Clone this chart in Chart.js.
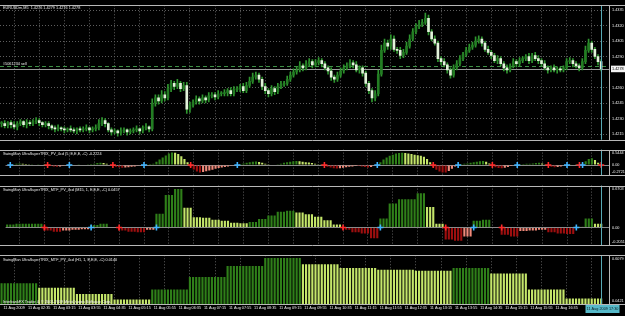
<!DOCTYPE html>
<html>
<head>
<meta charset="utf-8">
<script src="https://cdn.jsdelivr.net/npm/chart.js@4.4.1/dist/chart.umd.min.js"></script>
<style>
	html, body { margin: 0; padding: 0; background: #000; overflow: hidden; }
	#graphique { position: relative; width: 625px; height: 316px; background: #000; }
	canvas { position: absolute; left: 0; }
</style>
</head>
<body>
<div id="graphique">
	<canvas id="prix" width="625" height="145" style="top:0"></canvas>
	<canvas id="trix-m5" width="625" height="37" style="top:144px"></canvas>
	<canvas id="trix-m15" width="625" height="71" style="top:180px"></canvas>
	<canvas id="trix-h1" width="625" height="66" style="top:250px"></canvas>
</div>
<script>
const cloture = [
	1.4225, 1.4223, 1.4226, 1.4224, 1.4222, 1.4225, 1.4227, 1.4224, 1.4226, 1.4225,
	1.4227, 1.4228, 1.4226, 1.4224, 1.4225, 1.4223, 1.4221, 1.4220, 1.4221, 1.4220,
	1.4219, 1.4220, 1.4219, 1.4218, 1.4220, 1.4219, 1.4220, 1.4221, 1.4219, 1.4220,
	1.4221, 1.4225, 1.4228, 1.4225, 1.4219, 1.4217, 1.4218, 1.4216, 1.4218, 1.4219,
	1.4217, 1.4218, 1.4219, 1.4220, 1.4218, 1.4221, 1.4222, 1.4220, 1.4245, 1.4250,
	1.4247, 1.4253, 1.4250, 1.4259, 1.4264, 1.4261, 1.4264, 1.4259, 1.4262, 1.4239,
	1.4243, 1.4246, 1.4249, 1.4247, 1.4250, 1.4248, 1.4252, 1.4253, 1.4251, 1.4254,
	1.4254, 1.4255, 1.4257, 1.4254, 1.4258, 1.4259, 1.4261, 1.4257, 1.4262, 1.4266,
	1.4270, 1.4272, 1.4268, 1.4261, 1.4257, 1.4254, 1.4259, 1.4256, 1.4261, 1.4263,
	1.4264, 1.4268, 1.4272, 1.4275, 1.4277, 1.4281, 1.4279, 1.4283, 1.4285, 1.4282,
	1.4284, 1.4286, 1.4283, 1.4279, 1.4276, 1.4270, 1.4268, 1.4272, 1.4276, 1.4279,
	1.4281, 1.4284, 1.4282, 1.4277, 1.4279, 1.4274, 1.4264, 1.4257, 1.4250, 1.4254,
	1.4273, 1.4296, 1.4303, 1.4300, 1.4307, 1.4297, 1.4296, 1.4291, 1.4294, 1.4300,
	1.4307, 1.4314, 1.4319, 1.4321, 1.4323, 1.4327, 1.4314, 1.4307, 1.4303, 1.4288,
	1.4285, 1.4282, 1.4277, 1.4272, 1.4279, 1.4283, 1.4288, 1.4292, 1.4296, 1.4299,
	1.4301, 1.4305, 1.4307, 1.4303, 1.4297, 1.4294, 1.4291, 1.4286, 1.4288, 1.4283,
	1.4279, 1.4277, 1.4281, 1.4285, 1.4283, 1.4286, 1.4288, 1.4290, 1.4286, 1.4291,
	1.4288, 1.4286, 1.4283, 1.4279, 1.4277, 1.4279, 1.4277, 1.4278, 1.4277, 1.4279,
	1.4285, 1.4286, 1.4283, 1.4281, 1.4279, 1.4285, 1.4296, 1.4303, 1.4297, 1.4290,
	1.4285, 1.4278
];
// mèches en pips au-dessus / au-dessous du corps
const mecheHaut = [
	2,3,1,2,3,2,2,1,3,2, 2,3,2,1,2,2,1,2,3,1,
	2,1,3,2,1,2,2,3,1,2, 3,4,3,2,1,2,2,1,3,2,
	1,2,2,3,1,2,3,1,4,3, 3,4,3,4,3,2,4,2,3,3,
	3,2,3,2,3,2,3,2,2,3, 2,3,2,3,3,2,2,3,3,4,
	4,3,2,2,3,2,3,2,3,3, 2,3,3,3,3,4,2,3,3,2,
	3,3,2,2,2,3,2,3,3,3, 3,3,2,3,2,2,2,2,2,3,
	4,5,4,3,4,3,2,3,3,4, 4,3,3,4,3,5,3,2,3,2,
	2,3,2,2,3,3,3,2,3,3, 3,4,3,2,2,3,2,2,3,2,
	2,3,2,3,2,3,2,2,3,2, 3,3,2,3,2,2,3,2,2,2,
	3,3,2,2,2,3,4,4,2,2, 2,2
];
const mecheBas = [
	3,2,2,3,2,3,2,2,3,2, 2,2,3,2,2,3,2,3,2,2,
	3,2,2,2,3,2,2,2,3,2, 2,2,2,3,2,3,2,3,2,2,
	3,2,2,2,3,2,2,3,2,3, 3,2,3,2,3,3,2,3,2,4,
	3,2,2,3,2,3,2,2,3,2, 2,2,3,2,2,2,3,2,2,2,
	2,2,3,3,3,3,2,3,2,2, 2,2,2,2,2,2,3,2,2,3,
	2,2,3,2,3,3,3,2,2,2, 2,2,3,2,3,3,3,3,4,3,
	2,2,2,3,3,2,3,3,2,2, 2,2,2,2,2,2,3,2,2,3,
	3,2,3,3,2,2,2,2,2,2, 2,2,2,3,2,2,3,2,3,2,
	3,3,2,2,3,2,2,2,3,2, 2,3,2,2,3,2,2,3,2,2,
	2,2,3,2,3,2,2,2,3,2, 3,2
];
const niveauxPrix = [1.4335, 1.4320, 1.4305, 1.4290, 1.4260, 1.4245, 1.4230, 1.4215];
const prixActuel = 1.4278;
const ordreVente = 1.4281;

// TRIX M5 (une valeur par barre)
const trixM5 = [
	-0.01,
	0.01, 0.03, 0.05, 0.06, 0.05, 0.04, 0.03, 0.03, 0.02, 0.03, 0.02, 0.01,
	-0.02, -0.04, -0.05, -0.06, -0.05, -0.03, -0.01,
	0.01, 0.02, 0.02, 0.03, 0.02, 0.02, 0.03, 0.04, 0.05, 0.07, 0.08,
	0.07, 0.05, 0.02,
	-0.03, -0.06, -0.08, -0.10, -0.09, -0.08, -0.06, -0.05, -0.03, -0.01,
	0.02, 0.03, 0.04, 0.05,
	0.12, 0.20, 0.28, 0.35, 0.42, 0.46, 0.45, 0.40, 0.32, 0.22, 0.10,
	-0.06, -0.16, -0.24, -0.27, -0.26, -0.23, -0.20, -0.17, -0.14, -0.11, -0.09, -0.07, -0.05, -0.03, -0.01,
	0.02, 0.04, 0.06, 0.08, 0.10, 0.12,
	0.13, 0.11, 0.08, 0.05, 0.03, 0.02, 0.02,
	0.03, 0.05, 0.08, 0.10, 0.12, 0.14, 0.15, 0.14, 0.12,
	0.10, 0.09, 0.07, 0.05, 0.03, 0.01,
	-0.03, -0.06, -0.09, -0.12, -0.13, -0.12, -0.10, -0.08, -0.06, -0.05, -0.04, -0.04, -0.05, -0.07, -0.09, -0.07, -0.03,
	0.02, 0.10, 0.20, 0.28, 0.34, 0.38, 0.42, 0.44, 0.45, 0.44, 0.42, 0.40, 0.38, 0.36, 0.34, 0.30, 0.22, 0.10,
	-0.08, -0.17, -0.24, -0.27, -0.27, -0.22, -0.14, -0.05,
	0.02, 0.04, 0.05, 0.06, 0.08, 0.10, 0.12, 0.14, 0.15, 0.12, 0.06,
	-0.04, -0.08, -0.11, -0.12, -0.10, -0.07, -0.04, -0.02,
	0.02, 0.03, 0.04, 0.05, 0.05, 0.06, 0.07, 0.08, 0.06, 0.03,
	-0.03, -0.06, -0.08, -0.07, -0.05, -0.02,
	0.02, 0.03, 0.02, 0.01,
	-0.01,
	0.06, 0.14, 0.22, 0.25, 0.18, 0.08,
	-0.06
];
// TRIX M15 (une valeur pour 3 barres M5)
const trixM15 = [
	0.05, 0.06, 0.06, 0.06,
	-0.05, -0.07, -0.05, -0.04, -0.03, 0.04, 0.06,
	0,
	-0.05, -0.07, -0.08, -0.04,
	0.23, 0.54, 0.64, 0.33, 0.17, 0.16,
	0.13, 0.11,
	0.08, 0.07, 0.09,
	0.14, 0.20, 0.26, 0.28, 0.25,
	0.22, 0.18, 0.12, 0.05,
	-0.04, -0.08, -0.10, -0.18,
	0.15, 0.40, 0.47, 0.47, 0.57,
	0.34, 0.06,
	-0.20, -0.22, -0.15,
	0.11, 0.13, 0,
	-0.12, -0.15, -0.06, -0.05, -0.04,
	-0.08, -0.10, -0.11,
	0.01, 0.15, 0.06
];
// TRIX H1 (une valeur pour 12 barres M5)
const trixH1 = [0.291, 0.234, 0.155, 0.087, 0.212, 0.370, 0.506, 0.608, 0.530, 0.483, 0.460, 0.449, 0.483, 0.415, 0.212, 0.099];

const etiquettesTemps = [
	'11 Aug 2009', '11 Aug 02:35', '11 Aug 03:15', '11 Aug 03:55', '11 Aug 04:35', '11 Aug 05:15',
	'11 Aug 05:55', '11 Aug 06:35', '11 Aug 07:15', '11 Aug 07:55', '11 Aug 08:35', '11 Aug 09:15',
	'11 Aug 09:55', '11 Aug 10:35', '11 Aug 11:15', '11 Aug 11:55', '11 Aug 12:35', '11 Aug 13:15',
	'11 Aug 13:55', '11 Aug 14:35', '11 Aug 15:15', '11 Aug 15:55', '11 Aug 16:35'
];
const heureCourante = '11 Aug 2009 17:30';
const etiquettesM5 = ['0.5444', '0.00', '-0.2721'];
const etiquettesM15 = ['0.6703', '0.00', '-0.2051'];
const etiquettesH1 = ['0.6079', '0.0421'];

const titrePrix = 'EURUSDm,M5  1.4276 1.4279 1.4276 1.4278';
const titreOrdre = '#5061234 sell';
const titreM5 = 'SwingMan UltraSuperTRIX_PV_4cd (5, E,E,E, -C) -0.2224';
const titreM15 = 'SwingMan UltraSuperTRIX_MTF_PV_4cd (M15, 1, E,E,E, -C) 0.0457';
const titreH1 = 'SwingMan UltraSuperTRIX_MTF_PV_4cd (H1, 1, E,E,E, -C) 0.0140';
const copyright = 'InterbankFX Trader 4, \u00a9 2001-2009 MetaQuotes Software Corp.';

// Couleurs et police
const POLICE = '3.8px "Liberation Sans"';
const TEXTE = '#ececec';
const GRILLE = '#5e5e5e';
const CADRE = '#b8b8b8';
const VERTICALE = '#58aab6';
const VERT_FONCE = '#2f7f19';
const VERT_CLAIR = '#c4e66a';
const ROUGE_FONCE = '#9e0f0f';
const SAUMON = '#f0897a';
const CROIX_HAUT = '#41b4ff';
const CROIX_BAS = '#ff2a2a';

Chart.defaults.font.family = 'Liberation Sans';
Chart.defaults.font.size = 3.8;

const nbCategories = cloture.length + 2;
const categories = Array.from({ length: nbCategories }, (_, i) => i);
const derniereBarre = cloture.length - 1;

// Bougies : ouverture = clôture précédente
const ouverture = cloture.map((c, i) => (i === 0 ? c : cloture[i - 1]));
const corps = cloture.map((c, i) => [ouverture[i], c]);
const meches = cloture.map((c, i) => [
	Math.min(ouverture[i], c) - mecheBas[i] * 0.0001,
	Math.max(ouverture[i], c) + mecheHaut[i] * 0.0001,
]);
const couleursCorps = cloture.map((c, i) => (c >= ouverture[i] ? '#237d23' : '#e2f3da'));

// Couleur d'histogramme selon signe et pente
function couleursHisto(valeurs) {
	const couleurs = [];
	for (let i = 0; i < valeurs.length; i++) {
		const v = valeurs[i];
		const prec = i > 0 ? valeurs[i - 1] : v;
		if (v >= 0) {
			couleurs.push(v >= prec ? VERT_FONCE : VERT_CLAIR);
		} else {
			couleurs.push(v <= prec ? ROUGE_FONCE : SAUMON);
		}
	}
	return couleurs;
}

function etendre(valeurs, n) {
	return valeurs.flatMap((v) => Array(n).fill(v));
}

// Croix aux changements de signe
function jeuCroix(valeurs) {
	const donnees = valeurs.map(() => null);
	const couleurs = valeurs.map(() => 'transparent');
	let signe = 0;
	for (let i = 0; i < valeurs.length; i++) {
		const s = Math.sign(valeurs[i]);
		if (s !== 0 && signe !== 0 && s !== signe) {
			donnees[i] = 0;
			couleurs[i] = s > 0 ? CROIX_HAUT : CROIX_BAS;
		}
		if (s !== 0) signe = s;
	}
	return {
		type: 'line',
		data: donnees,
		showLine: false,
		pointStyle: 'cross',
		pointRadius: 3,
		pointBorderWidth: 1.6,
		pointBorderColor: couleurs,
		pointBackgroundColor: couleurs,
	};
}

function jeuHisto(valeurs, couleurs) {
	return {
		type: 'bar',
		data: valeurs,
		backgroundColor: couleurs,
		barPercentage: 0.68,
		categoryPercentage: 1,
		grouped: false,
	};
}

// Cadre, séparateurs, ligne verticale et textes façon MT4
const cadreMT4 = {
	id: 'cadreMT4',
	beforeDatasetsDraw(chart, args, opts) {
		if (!opts.lignesPrix) return;
		const { ctx, chartArea: a } = chart;
		const y = chart.scales.y;
		ctx.save();
		ctx.lineWidth = 1;
		const yOrdre = Math.round(y.getPixelForValue(ordreVente)) + 0.5;
		ctx.strokeStyle = '#3d8f45';
		ctx.setLineDash([4, 3]);
		ctx.beginPath();
		ctx.moveTo(a.left, yOrdre);
		ctx.lineTo(a.right, yOrdre);
		ctx.stroke();
		ctx.setLineDash([]);
		const yBid = Math.round(y.getPixelForValue(prixActuel)) + 0.5;
		ctx.strokeStyle = '#9a9a9a';
		ctx.beginPath();
		ctx.moveTo(a.left, yBid);
		ctx.lineTo(a.right, yBid);
		ctx.stroke();
		ctx.fillStyle = TEXTE;
		ctx.font = POLICE;
		ctx.textBaseline = 'bottom';
		ctx.fillText(titreOrdre, 3, yOrdre - 1);
		ctx.restore();
	},
	afterDraw(chart, args, opts) {
		const { ctx, chartArea: a, width } = chart;
		ctx.save();
		ctx.lineWidth = 1;
		const haut = Math.round(a.top) + 0.5;
		const bas = Math.round(a.bottom) + 0.5;
		const droite = Math.round(a.right) + 0.5;
		const xv = Math.round(chart.scales.x.getPixelForValue(derniereBarre)) + 0.5;
		ctx.strokeStyle = VERTICALE;
		ctx.beginPath();
		ctx.moveTo(xv, a.top);
		ctx.lineTo(xv, opts.heure ? a.bottom + 1 : a.bottom);
		ctx.stroke();
		ctx.strokeStyle = CADRE;
		ctx.beginPath();
		ctx.moveTo(0, haut);
		ctx.lineTo(width, haut);
		ctx.moveTo(0, bas);
		ctx.lineTo(width, bas);
		ctx.moveTo(droite, haut);
		ctx.lineTo(droite, bas);
		ctx.stroke();
		ctx.fillStyle = TEXTE;
		ctx.font = POLICE;
		ctx.textBaseline = 'middle';
		ctx.fillText(opts.titre, 3, a.top + opts.titreY);
		if (opts.copyright) {
			ctx.fillText(opts.copyright, 3, a.bottom - 2);
		}
		if (opts.heure) {
			ctx.fillStyle = '#56b9c9';
			ctx.fillRect(xv - 16, a.bottom + 1, 34, 8);
			ctx.fillStyle = '#0a1a20';
			ctx.textAlign = 'center';
			ctx.fillText(opts.heure, xv + 1, a.bottom + 5);
		}
		ctx.restore();
	},
};

function axeX(avecEtiquettes) {
	return {
		type: 'category',
		offset: true,
		grid: { offset: false, color: GRILLE, drawTicks: false },
		border: { display: false, dash: [1, 2] },
		afterBuildTicks: (s) => {
			s.ticks = s.ticks.filter((t) => (t.value - 4) % 8 === 0);
		},
		afterFit: (s) => {
			if (avecEtiquettes) s.height = 12;
		},
		ticks: avecEtiquettes
			? {
				autoSkip: false,
				maxRotation: 0,
				color: TEXTE,
				padding: 2,
				callback: (v) => etiquettesTemps[(v - 4) / 8] || '',
			}
			: { display: false, autoSkip: false },
	};
}

// Axe d'indicateur : étiquettes collées aux bords et zéro
function axeIndicateur(min, max, etiquettes, avecZero) {
	return {
		position: 'right',
		min: min,
		max: max,
		afterFit: (s) => {
			s.width = 16;
		},
		afterBuildTicks: (s) => {
			const d = ((s.max - s.min) * 3.5) / s.height;
			const valeurs = [s.max - d];
			if (avecZero) valeurs.push(0);
			valeurs.push(s.min + d);
			s.ticks = valeurs.map((v) => ({ value: v }));
		},
		ticks: {
			color: TEXTE,
			padding: 3,
			callback: (v, i) => etiquettes[i],
		},
		grid: {
			drawTicks: false,
			color: (ctx) => (ctx.tick && ctx.tick.value === 0 ? '#8a8a8a' : 'transparent'),
		},
		border: { display: false },
	};
}

function optionsCommunes(scales, padding, cadre) {
	return {
		responsive: false,
		animation: false,
		events: [],
		layout: { padding: padding },
		plugins: {
			legend: { display: false },
			tooltip: { enabled: false },
			cadreMT4: cadre,
		},
		scales: scales,
	};
}

// Graphique des prix
new Chart(document.querySelector('#prix'), {
	type: 'bar',
	data: {
		labels: categories,
		datasets: [
			{
				data: corps,
				backgroundColor: couleursCorps,
				borderColor: '#3aa83a',
				borderWidth: 0,
				barThickness: 2,
				minBarLength: 1,
				grouped: false,
			},
			{
				data: meches,
				backgroundColor: '#2f962f',
				barThickness: 1,
				grouped: false,
			},
		],
	},
	options: optionsCommunes(
		{
			x: axeX(false),
			y: {
				position: 'right',
				min: 1.42095,
				max: 1.43396,
				afterFit: (s) => {
					s.width = 16;
				},
				afterBuildTicks: (s) => {
					s.ticks = [...niveauxPrix, prixActuel].map((v) => ({ value: v }));
				},
				ticks: {
					padding: 3,
					color: (ctx) => (ctx.tick && ctx.tick.value === prixActuel ? '#000' : TEXTE),
					showLabelBackdrop: (ctx) => !!(ctx.tick && ctx.tick.value === prixActuel),
					backdropColor: '#f4f4f4',
					backdropPadding: { top: 1, bottom: 1, left: 1, right: 2 },
					callback: (v) => v.toFixed(4),
				},
				grid: {
					drawTicks: false,
					color: (ctx) => (ctx.tick && ctx.tick.value === prixActuel ? 'transparent' : GRILLE),
				},
				border: { display: false, dash: [1, 2] },
			},
		},
		{ top: 2, bottom: 1, left: 0, right: 0 },
		{ titre: titrePrix, titreY: 3, lignesPrix: true }
	),
	plugins: [cadreMT4],
});

// TRIX M5
new Chart(document.querySelector('#trix-m5'), {
	type: 'bar',
	data: {
		labels: categories,
		datasets: [jeuCroix(trixM5), jeuHisto(trixM5, couleursHisto(trixM5))],
	},
	options: optionsCommunes(
		{ x: axeX(false), y: axeIndicateur(-0.38, 0.565, etiquettesM5, true) },
		{ top: 0, bottom: 1, left: 0, right: 0 },
		{ titre: titreM5, titreY: 4 }
	),
	plugins: [cadreMT4],
});

// TRIX M15 multi-unité
const barresM15 = etendre(trixM15, 3);
new Chart(document.querySelector('#trix-m15'), {
	type: 'bar',
	data: {
		labels: categories,
		datasets: [jeuCroix(barresM15), jeuHisto(barresM15, etendre(couleursHisto(trixM15), 3))],
	},
	options: optionsCommunes(
		{ x: axeX(false), y: axeIndicateur(-0.299, 0.697, etiquettesM15, true) },
		{ top: 0, bottom: 1, left: 0, right: 0 },
		{ titre: titreM15, titreY: 4 }
	),
	plugins: [cadreMT4],
});

// TRIX H1 multi-unité
const barresH1 = etendre(trixH1, 12);
new Chart(document.querySelector('#trix-h1'), {
	type: 'bar',
	data: {
		labels: categories,
		datasets: [jeuHisto(barresH1, etendre(couleursHisto(trixH1), 12))],
	},
	options: optionsCommunes(
		{ x: axeX(true), y: axeIndicateur(0.031, 0.642, etiquettesH1, false) },
		{ top: 0, bottom: 0, left: 0, right: 0 },
		{ titre: titreH1, titreY: 5, copyright: copyright, heure: heureCourante }
	),
	plugins: [cadreMT4],
});
</script>
</body>
</html>
